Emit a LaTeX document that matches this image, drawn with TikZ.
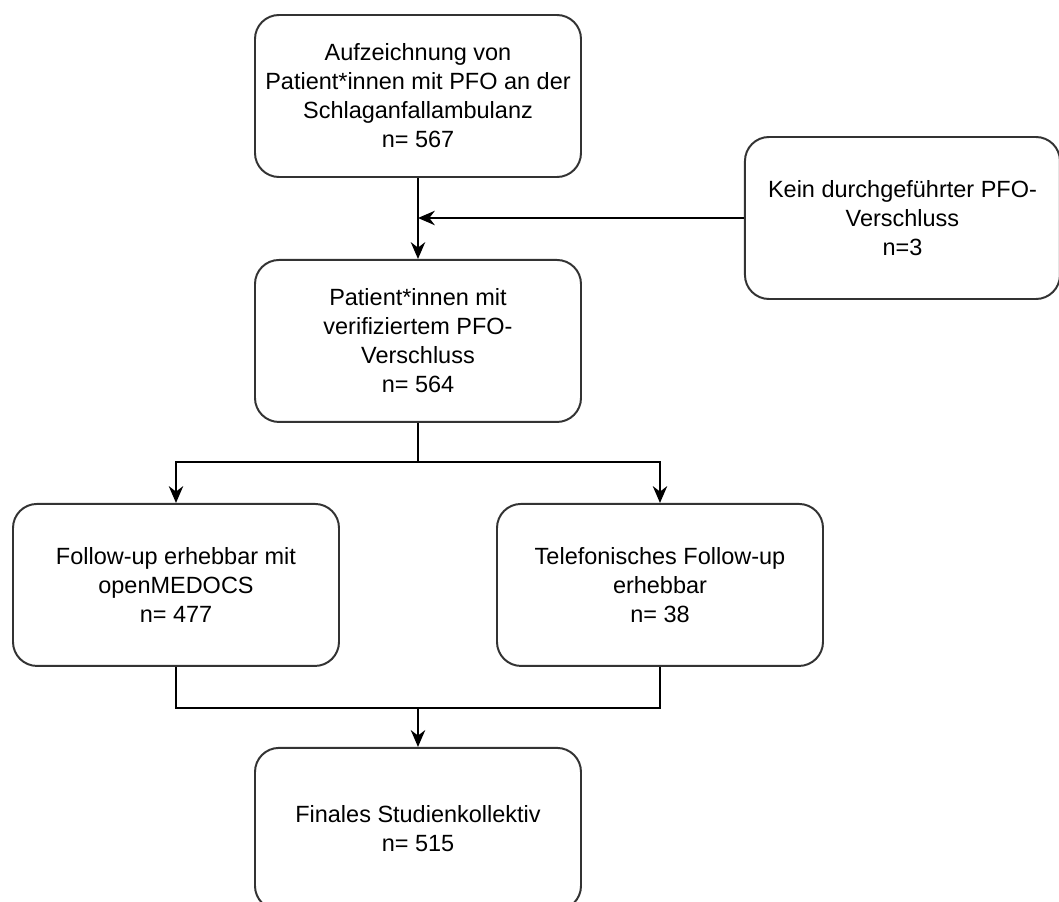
\documentclass[tikz,border=0pt]{standalone}
\usepackage{fontspec}
\setmainfont{Liberation Sans}
\usetikzlibrary{arrows.meta,positioning}
\definecolor{boxline}{RGB}{51,51,51}
\tikzset{
 flow/.style={rectangle,rounded corners=0.6cm,draw=boxline,line width=1.4pt,fill=white,minimum width=8.15cm,minimum height=4.05cm,align=center,font=\fontsize{16.7}{20.6}\selectfont},
 link/.style={line width=1.4pt,draw=black},
 arrow/.style={link,-{Stealth[length=0.42cm,width=0.36cm]}}}

\begin{document}
\begin{tikzpicture}[node distance=2.025cm]
\path[use as bounding box,clip] (-10.45,2.4) rectangle (16.025,-20.15);
\node[flow] (record) {Aufzeichnung von\\Patient*innen mit PFO an der\\Schlaganfallambulanz\\n= 567};
\node[flow,below=of record] (verified) {Patient*innen mit\\verifiziertem PFO-\\Verschluss\\n= 564};
\node[flow,minimum width=7.875cm,right=4.05cm of record,yshift=-3.05cm] (excluded) {Kein durchgeführter PFO-\\Verschluss\\n=3};
\node[flow,below=2cm of verified,xshift=-6.05cm] (medocs) {Follow-up erhebbar mit\\openMEDOCS\\n= 477};
\node[flow,below=2cm of verified,xshift=6.05cm] (phone) {Telefonisches Follow-up\\erhebbar\\n= 38};
\node[flow,below=2cm of medocs,xshift=6.05cm] (final) {Finales Studienkollektiv\\n= 515};
\coordinate[below=0.975cm of verified] (split);
\coordinate[above=0.975cm of final] (merge);
\draw[arrow] (record)--(verified);
\draw[arrow] (excluded.west)--(excluded.west -| record.south);
\draw[link] (verified)--(split);
\draw[arrow] (split) -| (medocs); \draw[arrow] (split) -| (phone);
\draw[link] (medocs) |- (merge); \draw[link] (phone) |- (merge);
\draw[arrow] (merge)--(final);
\end{tikzpicture}
\end{document}
